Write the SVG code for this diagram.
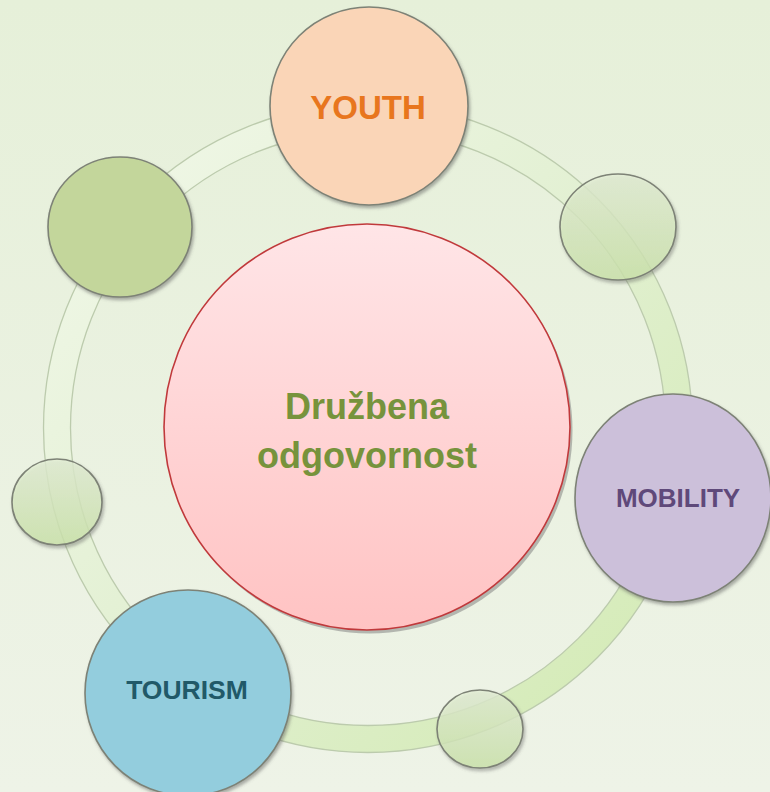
<svg xmlns="http://www.w3.org/2000/svg" width="770" height="792" viewBox="0 0 770 792">
  <defs>
    <linearGradient id="bg" x1="0" y1="0" x2="0" y2="1">
      <stop offset="0" stop-color="#e6f0d9"/>
      <stop offset="1" stop-color="#eef3e7"/>
    </linearGradient>
    <linearGradient id="ringG" x1="0" y1="0" x2="1" y2="1">
      <stop offset="0" stop-color="#f2f8ea"/>
      <stop offset="0.5" stop-color="#e2f0d2"/>
      <stop offset="1" stop-color="#d2eab2"/>
    </linearGradient>
    <linearGradient id="centerG" x1="0" y1="0" x2="0" y2="1">
      <stop offset="0" stop-color="#ffe5e7"/>
      <stop offset="1" stop-color="#ffc3c3"/>
    </linearGradient>
    <linearGradient id="smallG" x1="0" y1="0" x2="0" y2="1">
      <stop offset="0" stop-color="#e6f1d8"/>
      <stop offset="1" stop-color="#cfe8ad"/>
    </linearGradient>
    <filter id="sh" x="-10%" y="-10%" width="130%" height="130%">
      <feDropShadow dx="1.5" dy="2.5" stdDeviation="1.5" flood-color="#555" flood-opacity="0.45"/>
    </filter>
    <style>
      .node { stroke: #7d8276; stroke-width: 1.6; filter: url(#sh); }
      .small { stroke: #7d8276; stroke-width: 1.6; fill: url(#smallG); fill-opacity: 0.75; filter: url(#sh); }
      .lbl { font-family: "Liberation Sans", Arial, sans-serif; font-weight: bold; text-anchor: middle; }
      .edge { fill: none; stroke: #bccbad; stroke-width: 1.3; }
    </style>
  </defs>

  <rect x="0" y="0" width="770" height="792" fill="url(#bg)"/>

  <g id="connectors">
    <circle cx="368" cy="428" r="311" fill="none" stroke="url(#ringG)" stroke-width="27"/>
    <circle class="edge" cx="368" cy="428" r="324.5"/>
    <circle class="edge" cx="368" cy="428" r="297.5"/>
  </g>

  <g id="center">
    <circle cx="369.5" cy="430.5" r="203" fill="#7a7a7a" opacity="0.5"/>
    <circle cx="367" cy="427" r="203" fill="url(#centerG)" stroke="#c0393b" stroke-width="1.6"/>
    <text class="lbl" x="367" y="419" font-size="36" fill="#77933c">Družbena</text>
    <text class="lbl" x="367" y="468" font-size="36" fill="#77933c">odgovornost</text>
  </g>

  <g id="youth">
    <circle class="node" cx="369" cy="106" r="99" fill="#fad5b7"/>
    <text class="lbl" x="368" y="119" font-size="33" fill="#e8761e">YOUTH</text>
  </g>

  <g id="small-upper-right">
    <ellipse class="small" cx="618" cy="227" rx="58" ry="53"/>
  </g>

  <g id="mobility">
    <ellipse class="node" cx="673" cy="498" rx="98" ry="104" fill="#ccc0da"/>
    <text class="lbl" x="678" y="507" font-size="26" fill="#5f497a">MOBILITY</text>
  </g>

  <g id="small-bottom">
    <ellipse class="small" cx="480" cy="729" rx="43" ry="39" fill-opacity="0.9"/>
  </g>

  <g id="tourism">
    <circle class="node" cx="188" cy="693" r="103" fill="#93cddd"/>
    <text class="lbl" x="187" y="699" font-size="26.5" fill="#215968">TOURISM</text>
  </g>

  <g id="small-left">
    <ellipse class="small" cx="57" cy="502" rx="45" ry="43" fill-opacity="0.7"/>
  </g>

  <g id="upper-left">
    <ellipse class="node" cx="120" cy="227" rx="72" ry="70" fill="#c3d69b"/>
  </g>
</svg>
